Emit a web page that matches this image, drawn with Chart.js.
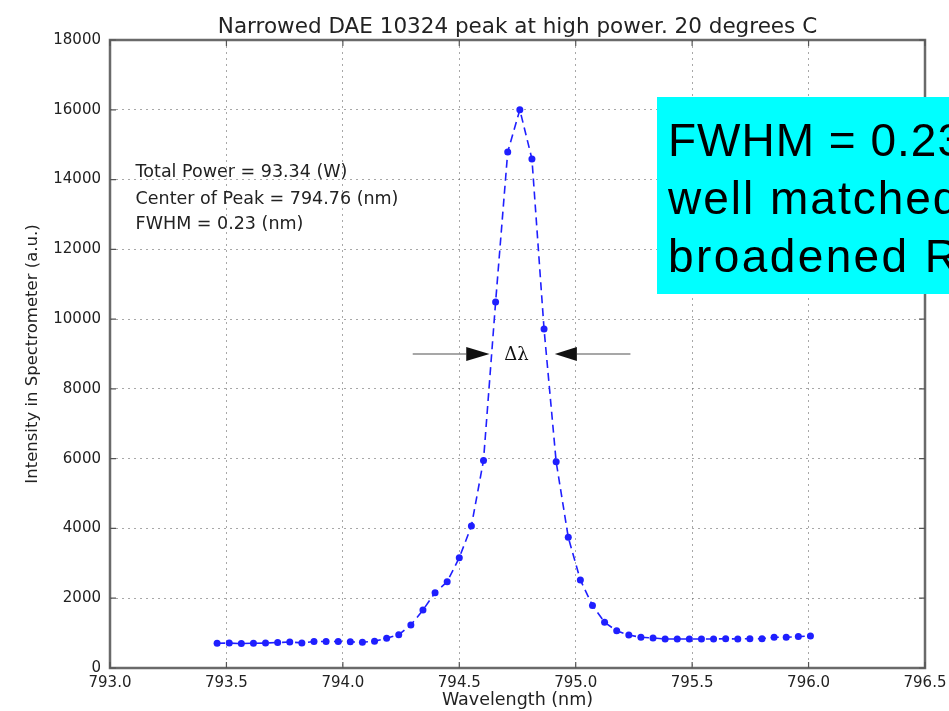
<!DOCTYPE html>
<html>
<head>
<meta charset="utf-8">
<script src="https://cdn.jsdelivr.net/npm/chart.js@4.4.0/dist/chart.umd.min.js"></script>
<style>
  html, body { margin: 0; padding: 0; background: #fff; }
  canvas { display: block; }
</style>
</head>
<body>
<canvas id="spectrum" width="949" height="711"></canvas>
<script>
// Spectrometer readout: wavelength (nm) and intensity (a.u.)
const wavelengthNm = [
  793.460, 793.512, 793.564, 793.616, 793.668, 793.720, 793.772, 793.824, 793.876, 793.928,
  793.980, 794.032, 794.084, 794.136, 794.188, 794.240, 794.292, 794.344, 794.396, 794.448,
  794.500, 794.552, 794.604, 794.656, 794.708, 794.760, 794.812, 794.864, 794.916, 794.968,
  795.020, 795.072, 795.124, 795.176, 795.228, 795.280, 795.332, 795.384, 795.436, 795.488,
  795.540, 795.592, 795.644, 795.696, 795.748, 795.800, 795.852, 795.904, 795.956, 796.008
];
const intensity = [
  710, 715, 700, 710, 715, 730, 745, 720, 760, 760,
  760, 750, 740, 770, 850, 955, 1232, 1662, 2160, 2474,
  3160, 4070, 5950, 10490, 14790, 16000, 14590, 9716, 5913, 3745,
  2522, 1790, 1310, 1065, 946, 880, 860, 831, 831, 831,
  831, 831, 840, 831, 840, 840, 880, 880, 900, 917
];

// Axis tick values
const xTickValues = [793.0, 793.5, 794.0, 794.5, 795.0, 795.5, 796.0, 796.5];
const yTickValues = [0, 2000, 4000, 6000, 8000, 10000, 12000, 14000, 16000, 18000];

// Text
const titleText = 'Narrowed DAE 10324 peak at high power. 20 degrees C';
const xTitle = 'Wavelength (nm)';
const yTitle = 'Intensity in Spectrometer (a.u.)';
const infoLines = ['Total Power = 93.34 (W)', 'Center of Peak = 794.76 (nm)', 'FWHM = 0.23 (nm)'];
const infoX = 793.11;
const infoY = [14200, 13440, 12720];
const deltaLabel = '\u0394\u03bb';
const deltaY = 9000;
const deltaLeft = [794.30, 794.53, 794.63];   // line start, head base, head tip
const deltaRight = [795.235, 795.005, 794.91];
const deltaTextX = 794.745;
const noteLines = ['FWHM = 0.23', 'well matched', 'broadened R'];

const ink = '#222';
const blue = '#1f1fff';

const decorations = {
  id: 'decorations',
  beforeDraw(chart) {
    const ctx = chart.ctx;
    ctx.save();
    ctx.fillStyle = '#fff';
    ctx.fillRect(0, 0, chart.width, chart.height);
    ctx.restore();
  },
  afterDatasetsDraw(chart) {
    const { ctx, chartArea: a, scales: { x, y } } = chart;
    ctx.save();
    // axes frame
    ctx.strokeStyle = '#6a6a6a';
    ctx.lineWidth = 2.5;
    ctx.strokeRect(a.left, a.top, a.right - a.left, a.bottom - a.top);
    // inward tick marks on all four sides
    ctx.strokeStyle = '#555';
    ctx.lineWidth = 1.2;
    xTickValues.forEach(v => {
      const px = x.getPixelForValue(v);
      ctx.beginPath();
      ctx.moveTo(px, a.bottom); ctx.lineTo(px, a.bottom - 6);
      ctx.moveTo(px, a.top); ctx.lineTo(px, a.top + 6);
      ctx.stroke();
    });
    yTickValues.forEach(v => {
      const py = y.getPixelForValue(v);
      ctx.beginPath();
      ctx.moveTo(a.left, py); ctx.lineTo(a.left + 6, py);
      ctx.moveTo(a.right, py); ctx.lineTo(a.right - 6, py);
      ctx.stroke();
    });

    // peak summary text
    ctx.fillStyle = ink;
    ctx.font = '17.5px "DejaVu Sans"';
    ctx.textAlign = 'left';
    ctx.textBaseline = 'middle';
    infoLines.forEach((t, i) => {
      ctx.fillText(t, x.getPixelForValue(infoX), y.getPixelForValue(infoY[i]));
    });

    // width marker with inward arrows
    const py = y.getPixelForValue(deltaY);
    const drawArrow = (pts) => {
      const [start, base, tip] = pts.map(v => x.getPixelForValue(v));
      ctx.strokeStyle = '#8a8a8a';
      ctx.lineWidth = 1.5;
      ctx.beginPath();
      ctx.moveTo(start, py); ctx.lineTo(base, py);
      ctx.stroke();
      ctx.fillStyle = '#111';
      ctx.beginPath();
      ctx.moveTo(tip, py);
      ctx.lineTo(base, py - 7);
      ctx.lineTo(base, py + 7);
      ctx.closePath();
      ctx.fill();
    };
    drawArrow(deltaLeft);
    drawArrow(deltaRight);
    ctx.fillStyle = '#111';
    ctx.font = '18px "DejaVu Serif"';
    ctx.textAlign = 'center';
    ctx.fillText(deltaLabel, x.getPixelForValue(deltaTextX), py + 1);
    ctx.restore();
  },
  afterDraw(chart) {
    const { ctx, chartArea: a } = chart;
    ctx.save();
    // title
    ctx.fillStyle = ink;
    ctx.font = '21.5px "DejaVu Sans"';
    ctx.textAlign = 'center';
    ctx.textBaseline = 'alphabetic';
    ctx.fillText(titleText, (a.left + a.right) / 2, 33);
    // highlighted note box
    ctx.fillStyle = '#00ffff';
    ctx.fillRect(657, 97, chart.width - 657, 197);
    ctx.fillStyle = '#000';
    ctx.font = '46px "Liberation Sans"';
    ctx.textAlign = 'left';
    const baselines = [156, 214, 272];
    const spacing = ['1px', '2px', '2.4px'];
    noteLines.forEach((t, i) => {
      ctx.letterSpacing = spacing[i];
      ctx.fillText(t, 668, baselines[i]);
    });
    ctx.restore();
  }
};

Chart.defaults.font.family = '"DejaVu Sans"';
Chart.defaults.color = ink;

const gridStyle = { color: 'rgba(110,110,110,0.6)', drawTicks: false, lineWidth: 1 };
const borderStyle = { display: false, dash: [2, 4] };

new Chart(document.getElementById('spectrum'), {
  type: 'line',
  data: {
    datasets: [{
      data: wavelengthNm.map((w, i) => ({ x: w, y: intensity[i] })),
      borderColor: blue,
      backgroundColor: blue,
      borderWidth: 1.6,
      borderDash: [8, 5],
      pointRadius: 3.5,
      pointBorderWidth: 0,
      pointBackgroundColor: blue,
      tension: 0,
      fill: false
    }]
  },
  options: {
    responsive: false,
    animation: false,
    devicePixelRatio: 1,
    layout: { padding: { top: 40, right: 24, bottom: 0, left: 0 } },
    plugins: { legend: { display: false }, tooltip: { enabled: false }, title: { display: false } },
    scales: {
      x: {
        type: 'linear',
        min: 793.0,
        max: 796.5,
        afterBuildTicks: s => { s.ticks = xTickValues.map(v => ({ value: v })); },
        afterFit: s => { s.height = 43; s.paddingLeft = 0; s.paddingRight = 0; },
        border: borderStyle,
        grid: gridStyle,
        ticks: { padding: 6, font: { size: 15 }, color: ink, maxRotation: 0, autoSkip: false,
                 callback: v => Number(v).toFixed(1) },
        title: { display: true, text: xTitle, font: { size: 17.5 }, color: ink, padding: { top: 0, bottom: 0 } }
      },
      y: {
        min: 0,
        max: 18000,
        afterBuildTicks: s => { s.ticks = yTickValues.map(v => ({ value: v })); },
        afterFit: s => { s.width = 110; s.paddingTop = 0; s.paddingBottom = 0; },
        border: borderStyle,
        grid: gridStyle,
        ticks: { padding: 9, font: { size: 15 }, color: ink, callback: v => String(v) },
        title: { display: true, text: yTitle, font: { size: 16.5 }, color: ink, padding: { top: 23, bottom: 0 } }
      }
    }
  },
  plugins: [decorations]
});
</script>
</body>
</html>
